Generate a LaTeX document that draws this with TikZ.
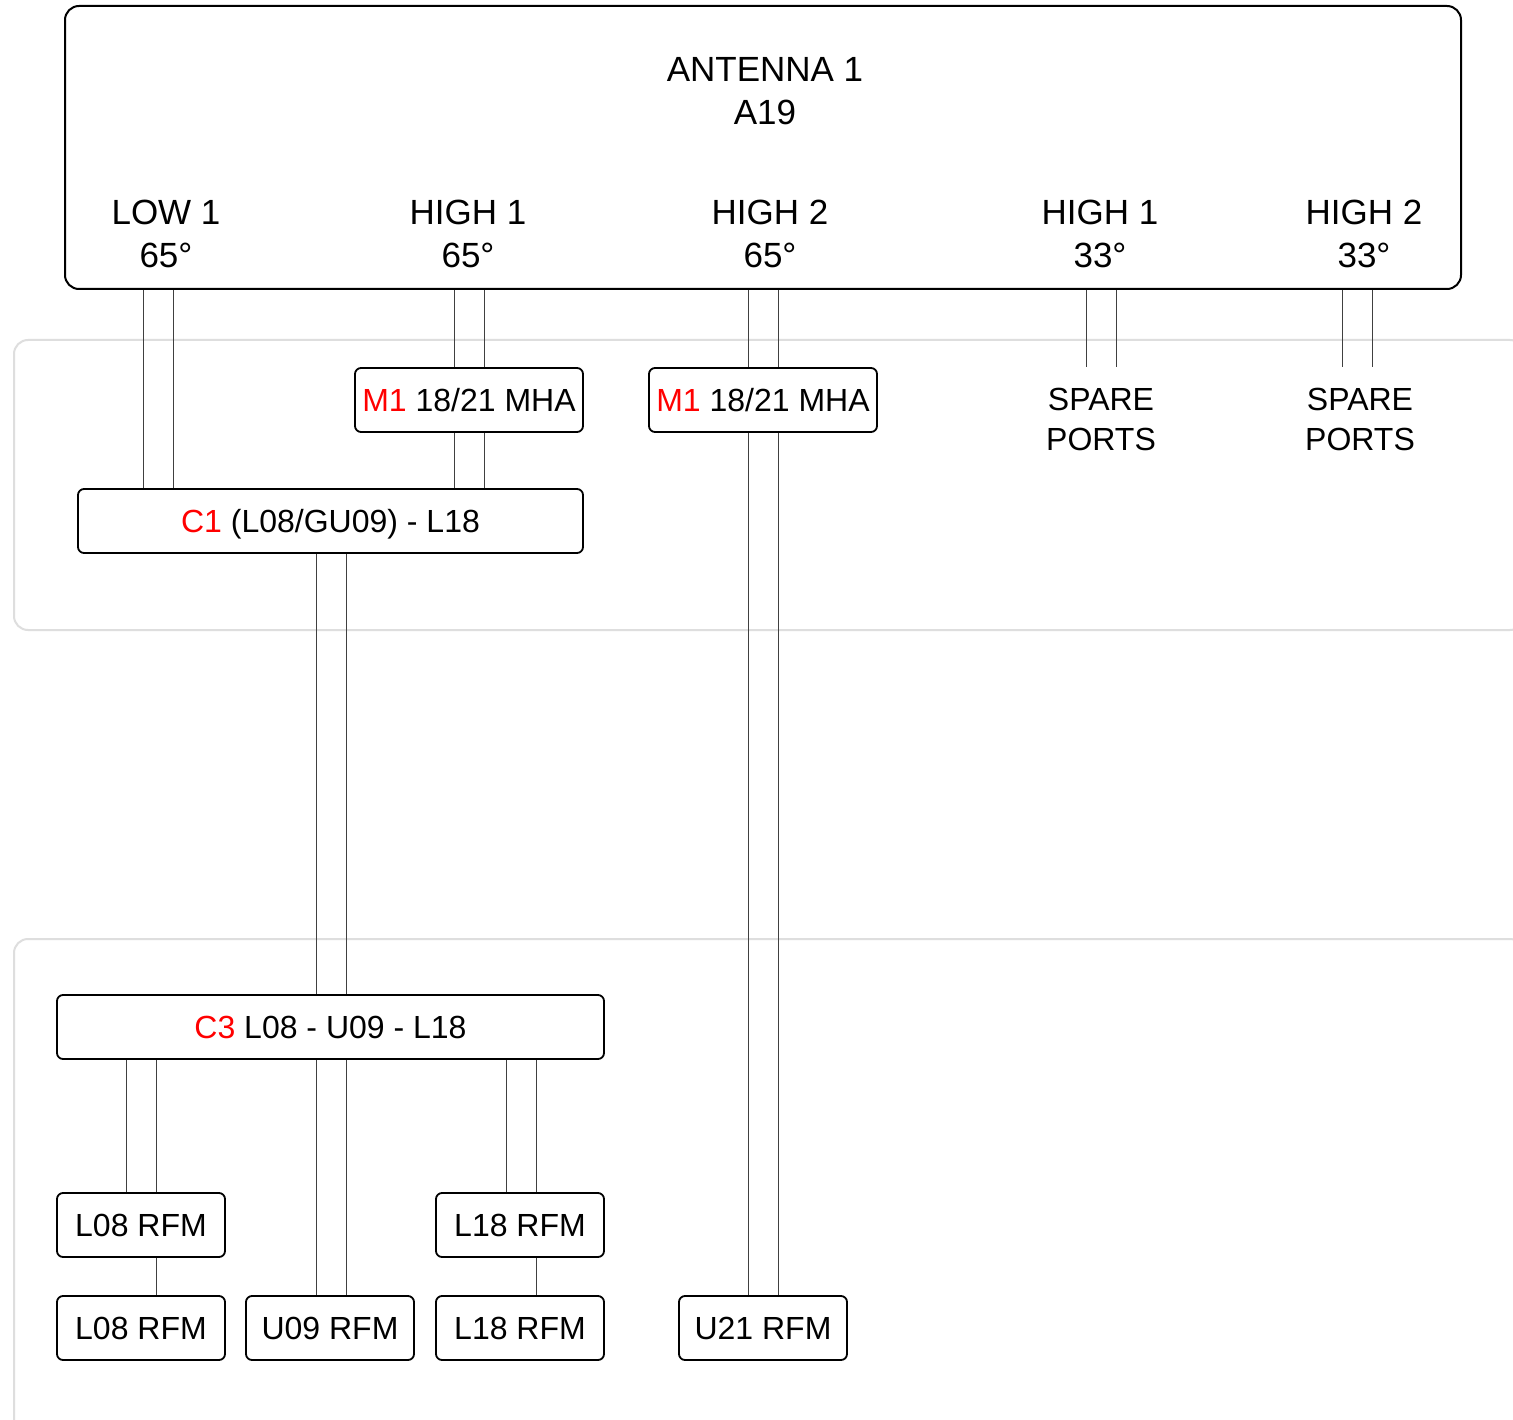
\documentclass[tikz,border=0pt]{standalone}
\usepackage{fontspec}
\setmainfont{Liberation Sans}
\begin{document}
\begin{tikzpicture}[x=1pt,y=-1pt,
  box/.style={draw=black,line width=1.8pt,rounded corners=6pt,minimum height=64pt,inner sep=0pt,
    text height=23pt,text depth=0pt,font=\fontsize{32}{38}\selectfont,fill=white},
  antbox/.style={draw=black,line width=2pt,rounded corners=14pt,inner sep=0pt},
  cable/.style={draw=black!75,line width=1pt},
  region/.style={draw=black!13,line width=2pt,rounded corners=14pt},
  biglbl/.style={inner sep=0pt,font=\fontsize{35}{42}\selectfont,anchor=base},
  lbl/.style={inner sep=0pt,font=\fontsize{32}{38}\selectfont,anchor=base}]
\clip (0,0) rectangle (1513,1420);
\fill[white] (0,0) rectangle (1513,1420);
% regions
\draw[region] (14,340) rectangle (1524,630);
\draw[region] (14,939) rectangle (1524,1450);
% antenna
\node[antbox,minimum width=1396pt,minimum height=283pt] (ant) at (763,147.5) {};
\node[biglbl] (antname) at (765,82) {ANTENNA 1};
\node[biglbl] (anttype) at (765,125) {A19};
\node[biglbl] (p1a) at (166,225) {LOW 1};
\node[biglbl] (p1b) at (166,268) {65°};
\node[biglbl] (p2a) at (468,225) {HIGH 1};
\node[biglbl] (p2b) at (468,268) {65°};
\node[biglbl] (p3a) at (770,225) {HIGH 2};
\node[biglbl] (p3b) at (770,268) {65°};
\node[biglbl] (p4a) at (1100,225) {HIGH 1};
\node[biglbl] (p4b) at (1100,268) {33°};
\node[biglbl] (p5a) at (1364,225) {HIGH 2};
\node[biglbl] (p5b) at (1364,268) {33°};
% boxes
\node[box,minimum width=228pt] (mha1) at (469,400) {\textcolor{red}{M1} 18/21 MHA};
\node[box,minimum width=228pt] (mha2) at (763,400) {\textcolor{red}{M1} 18/21 MHA};
\node[box,minimum width=505pt] (c1) at (330.5,521) {\textcolor{red}{C1} (L08/GU09) - L18};
\node[box,minimum width=547pt] (c3) at (330.5,1027) {\textcolor{red}{C3} L08 - U09 - L18};
\node[box,minimum width=168pt] (l08a) at (141,1225) {L08 RFM};
\node[box,minimum width=168pt] (l18a) at (520,1225) {L18 RFM};
\node[box,minimum width=168pt] (l08b) at (141,1328) {L08 RFM};
\node[box,minimum width=168pt] (u09) at (330,1328) {U09 RFM};
\node[box,minimum width=168pt] (l18b) at (520,1328) {L18 RFM};
\node[box,minimum width=168pt] (u21) at (763,1328) {U21 RFM};
% spare ports
\node[lbl] (sp1a) at (1101,411) {SPARE};
\node[lbl] (sp1b) at (1101,450) {PORTS};
\node[lbl] (sp2a) at (1360,411) {SPARE};
\node[lbl] (sp2b) at (1360,450) {PORTS};
\coordinate (sp1) at (1101,367);
\coordinate (sp2) at (1360,367);
% cables
\foreach \x in {143,173} \draw[cable] (ant.south -| \x,0) -- (c1.north -| \x,0);
\foreach \x in {454,484} {
  \draw[cable] (ant.south -| \x,0) -- (mha1.north -| \x,0);
  \draw[cable] (mha1.south -| \x,0) -- (c1.north -| \x,0);}
\foreach \x in {748,778} {
  \draw[cable] (ant.south -| \x,0) -- (mha2.north -| \x,0);
  \draw[cable] (mha2.south -| \x,0) -- (u21.north -| \x,0);}
\foreach \x in {1086,1116} \draw[cable] (ant.south -| \x,0) -- (sp1 -| \x,0);
\foreach \x in {1342,1372} \draw[cable] (ant.south -| \x,0) -- (sp2 -| \x,0);
\foreach \x in {316,346} {
  \draw[cable] (c1.south -| \x,0) -- (c3.north -| \x,0);
  \draw[cable] (c3.south -| \x,0) -- (u09.north -| \x,0);}
\foreach \x in {126,156} \draw[cable] (c3.south -| \x,0) -- (l08a.north -| \x,0);
\foreach \x in {506,536} \draw[cable] (c3.south -| \x,0) -- (l18a.north -| \x,0);
\draw[cable] (l08a.south -| 156,0) -- (l08b.north -| 156,0);
\draw[cable] (l18a.south -| 536,0) -- (l18b.north -| 536,0);
\end{tikzpicture}
\end{document}
